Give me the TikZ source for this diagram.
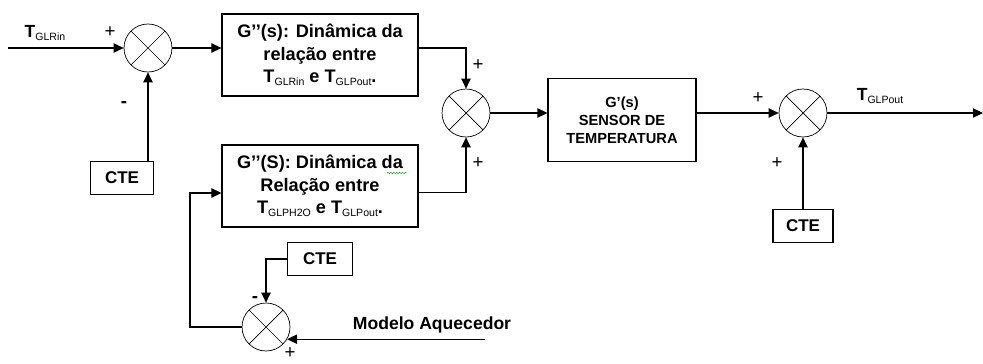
\documentclass[tikz,border=0pt]{standalone}
\usepackage{fontspec}
\setmainfont{Liberation Sans}
\usetikzlibrary{arrows.meta, positioning, decorations.pathmorphing}
\newcommand{\tsub}[1]{\raisebox{-0.35ex}{\fontsize{9}{10}\selectfont\mdseries #1}}
\tikzset{
  block/.style={rectangle, draw, align=center, line width=0.9pt,
    minimum width=5.88cm, minimum height=2.46cm, inner sep=0pt,
    font=\fontsize{15.5}{19.1}\selectfont\bfseries},
  sensorblock/.style={block, minimum width=4.44cm, minimum height=2.49cm,
    font=\fontsize{12.5}{15.4}\selectfont\bfseries},
  ctebox/.style={rectangle, draw, line width=0.9pt, minimum width=1.9cm,
    minimum height=1cm, inner sep=0pt, font=\fontsize{14.5}{16}\selectfont\bfseries},
  sumjunc/.style={circle, draw, line width=0.6pt, minimum size=1.44cm, inner sep=0pt,
    path picture={\draw[line width=0.6pt]
      (path picture bounding box.north west) -- (path picture bounding box.south east)
      (path picture bounding box.north east) -- (path picture bounding box.south west);}},
  arrow/.style={-{Triangle[length=0.3cm, width=0.28cm]}, line width=0.9pt},
  sign/.style={font=\fontsize{16}{16}\selectfont},
  varlabel/.style={font=\fontsize{15}{16}\selectfont\bfseries}
}
\begin{document}
\begin{tikzpicture}[x=0.03cm, y=-0.03cm]
  \useasboundingbox (0,0) rectangle (983,363);

  % Upper branch
  \coordinate (in) at (8,48);
  \node[varlabel] (tin) at (45,33) {T\tsub{GLRin}};
  \node[sumjunc] (s1) at (148,48) {};
  \node[ctebox] (c1) at (122,178) {CTE};
  \node[block] (b1) at (320,55) {G’’(s): Dinâmica da\\relação entre\\T\tsub{GLRin} e T\tsub{GLPout}.};
  \node[sign] (p1) at (110,32) {+};
  \node[sign, font=\fontsize{16}{16}\selectfont\bfseries] (m1) at (124,105) {-};

  % Lower branch
  \node[block] (b2) at (320,186) {G’’(S): Dinâmica da\\Relação entre\\T\tsub{GLPH2O} e T\tsub{GLPout}.};
  \draw[green!60!black, decorate, decoration={snake, amplitude=0.5pt, segment length=2.5pt}] (387,173) -- (407,173);
  \node[sumjunc] (s4) at (266,327) {};
  \node[ctebox, minimum width=1.95cm] (c4) at (320,259) {CTE};
  \coordinate (fb) at (190,193);
  \coordinate (heat) at (485,340);
  \node[varlabel] (heatlbl) at (432,325) {Modelo Aquecedor};
  \node[sign, font=\fontsize{16}{16}\selectfont\bfseries] (m4) at (255,300) {-};
  \node[sign] (p4) at (290,353) {+};

  % Sum, sensor and output
  \node[sumjunc] (s2) at (466,113) {};
  \node[sign] (p2a) at (478,65) {+};
  \node[sign] (p2b) at (478,163) {+};
  \node[sensorblock] (sensor) at (622,120) {G’(s)\\SENSOR DE\\TEMPERATURA};
  \node[sumjunc] (s3) at (803,113) {};
  \node[ctebox, minimum width=1.8cm] (c3) at (803,226) {CTE};
  \node[sign] (p3a) at (758,98) {+};
  \node[sign] (p3b) at (777,163) {+};
  \coordinate (out) at (983,113);
  \node[varlabel] (tout) at (880,96) {T\tsub{GLPout}};

  % Connections
  \draw[arrow] (in) -- (s1.west);
  \draw[arrow] (s1.east) -- (s1.east -| b1.west);
  \draw[arrow] (c1.north -| s1.south) -- (s1.south);
  \draw[arrow] (b1.east |- s1) -| (s2.north);
  \draw[arrow] ([yshift=-0.2cm]b2.east) -| (s2.south);
  \draw[arrow] (s2.east) -- (s2.east -| sensor.west);
  \draw[arrow] (s2.east -| sensor.east) -- (s3.west);
  \draw[arrow] (s3.east) -- (out);
  \draw[arrow] (c3.north) -- (s3.south);
  \draw[arrow] (c4.west) -| (s4.north);
  \draw[arrow] (heat |- s4.-30) -- (s4.-30);
  \draw[arrow] (s4.west) -| (fb) -- (fb -| b2.west);
\end{tikzpicture}
\end{document}
